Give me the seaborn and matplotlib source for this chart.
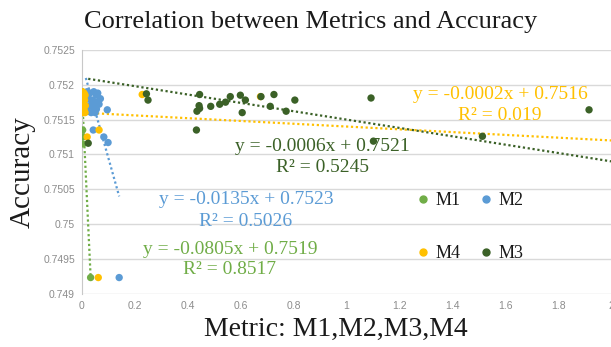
import numpy as np
import pandas as pd
import seaborn as sns
import matplotlib.pyplot as plt
from matplotlib.lines import Line2D
from matplotlib.ticker import FuncFormatter

# values
m1_x = [0.001, 0.002, 0.001, 0.002, 0.003, 0.003, 0.003, 0.033]
m1_y = [0.7519, 0.7518, 0.7517, 0.7516, 0.75135, 0.75125, 0.75115, 0.74923]

m2_x = [0.020, 0.030, 0.045, 0.055, 0.060, 0.070, 0.025, 0.040, 0.050, 0.065, 0.030,
        0.045, 0.055, 0.020, 0.035, 0.050, 0.015, 0.096, 0.043, 0.083, 0.099, 0.141]
m2_y = [0.75190, 0.75188, 0.75190, 0.75185, 0.75188, 0.75180, 0.75180, 0.75178, 0.75175,
        0.75172, 0.75170, 0.75168, 0.75165, 0.75162, 0.75160, 0.75160, 0.75170, 0.75164,
        0.75135, 0.75125, 0.75117, 0.74923]

m4_x = [0.002, 0.008, 0.012, 0.003, 0.010, 0.005, 0.013, 0.002, 0.009, 0.004, 0.012,
        0.228, 0.675, 0.065, 0.020, 0.062]
m4_y = [0.75190, 0.75188, 0.75185, 0.75180, 0.75178, 0.75172, 0.75170, 0.75166, 0.75163,
        0.75160, 0.75160, 0.75186, 0.75183, 0.75135, 0.75125, 0.74923]

m3_x = [0.244, 0.250, 0.445, 0.443, 0.435, 0.445, 0.433, 0.487, 0.521, 0.543, 0.561,
        0.599, 0.618, 0.606, 0.677, 0.712, 0.726, 0.772, 0.805, 0.024, 1.093, 1.102,
        1.514, 1.917]
m3_y = [0.75187, 0.75178, 0.75186, 0.75170, 0.75162, 0.75166, 0.75135, 0.75169, 0.75172,
        0.75175, 0.75183, 0.75185, 0.75178, 0.75160, 0.75183, 0.75169, 0.75186, 0.75162,
        0.75178, 0.75116, 0.75181, 0.75119, 0.75126, 0.75164]

# trendline equations shown on the chart
metrics = ['M1', 'M2', 'M4', 'M3']
slopes = [-0.0805, -0.0135, -0.0002, -0.0006]
intercepts = [0.7519, 0.7523, 0.7516, 0.7521]
r2 = ['0.8517', '0.5026', '0.019', '0.5245']
colors = {'M1': '#70AD47', 'M2': '#5B9BD5', 'M4': '#FFC000', 'M3': '#3B6127'}

df = pd.concat([
    pd.DataFrame({'x': m1_x, 'y': m1_y, 'metric': 'M1'}),
    pd.DataFrame({'x': m2_x, 'y': m2_y, 'metric': 'M2'}),
    pd.DataFrame({'x': m4_x, 'y': m4_y, 'metric': 'M4'}),
    pd.DataFrame({'x': m3_x, 'y': m3_y, 'metric': 'M3'}),
], ignore_index=True)

sns.set_style('white')
serif = 'Liberation Serif'

fig = plt.figure(figsize=(6.11, 3.47), dpi=100)
ax = fig.add_axes([0.134, 0.154, 0.866, 0.702])

sns.scatterplot(data=df, x='x', y='y', hue='metric', palette=colors, s=28,
                edgecolor='none', legend=False, ax=ax, zorder=3)

# dotted trendlines, over the x range of each series (M3/M4 run off the right edge)
for m, a, b in zip(metrics, slopes, intercepts):
    xs = df.loc[df.metric == m, 'x']
    x_end = 2.1 if m in ('M3', 'M4') else xs.max()
    xx = np.linspace(xs.min(), x_end, 50)
    ax.plot(xx, a * xx + b, color=colors[m], lw=1.6, ls=(0, (1, 1.2)), zorder=2)

ax.set_xlim(0, 2.0)
ax.set_ylim(0.749, 0.7525)
ax.set_yticks(np.arange(0.749, 0.75251, 0.0005))
ax.set_xticks(np.arange(0, 2.01, 0.2))
fmt = FuncFormatter(lambda v, p: '%g' % round(v, 4))
ax.xaxis.set_major_formatter(fmt)
ax.yaxis.set_major_formatter(fmt)
ax.tick_params(length=0, labelsize=7.5, labelcolor='#8C8C8C', pad=5)
for lab in ax.get_xticklabels() + ax.get_yticklabels():
    lab.set_family('Liberation Sans')
ax.grid(axis='y', color='#D9D9D9', lw=1)
ax.set_axisbelow(True)
for side in ['top', 'right', 'bottom']:
    ax.spines[side].set_visible(False)
ax.spines['left'].set_color('#C8C8C8')

ax.set_xlabel('Metric: M1,M2,M3,M4', family=serif, fontsize=20, color='#1a1a1a')
ax.set_ylabel('Accuracy', family=serif, fontsize=21, color='#1a1a1a')
ax.xaxis.set_label_coords((336 - 82) / 529, -0.095)
ax.yaxis.set_label_coords(-0.088, 0.5)
fig.suptitle('Correlation between Metrics and Accuracy', family=serif, fontsize=19,
             x=311 / 611, y=1 - 22 / 347, va='center', color='#1a1a1a')

# equation labels
eq_pos = {'M1': (230, 249), 'M2': (246, 200), 'M4': (500, 95), 'M3': (322, 146)}
for m, a, b, r in zip(metrics, slopes, intercepts, r2):
    px, py = eq_pos[m]
    fig.text(px / 611, 1 - py / 347, 'y = %gx + %g' % (a, b), ha='center', va='center',
             family=serif, fontsize=14, color=colors[m])
    fig.text(px / 611, 1 - (py + 21) / 347, 'R² = %s' % r, ha='center', va='center',
             family=serif, fontsize=14, color=colors[m])

handles = [Line2D([], [], marker='o', ls='none', color=colors[m], markersize=5,
                  label=m) for m in ['M1', 'M4', 'M2', 'M3']]
leg = fig.legend(handles=handles, ncol=2, loc='upper left', frameon=False,
                 bbox_to_anchor=(416 / 611, 1 - 192 / 347), prop={'family': serif, 'size': 13},
                 labelspacing=2.0, handlelength=0.8, handletextpad=0.3, columnspacing=1.0,
                 borderpad=0, borderaxespad=0)
for t in leg.get_texts():
    t.set_color('#1a1a1a')

fig.savefig('out.png', dpi=100)
